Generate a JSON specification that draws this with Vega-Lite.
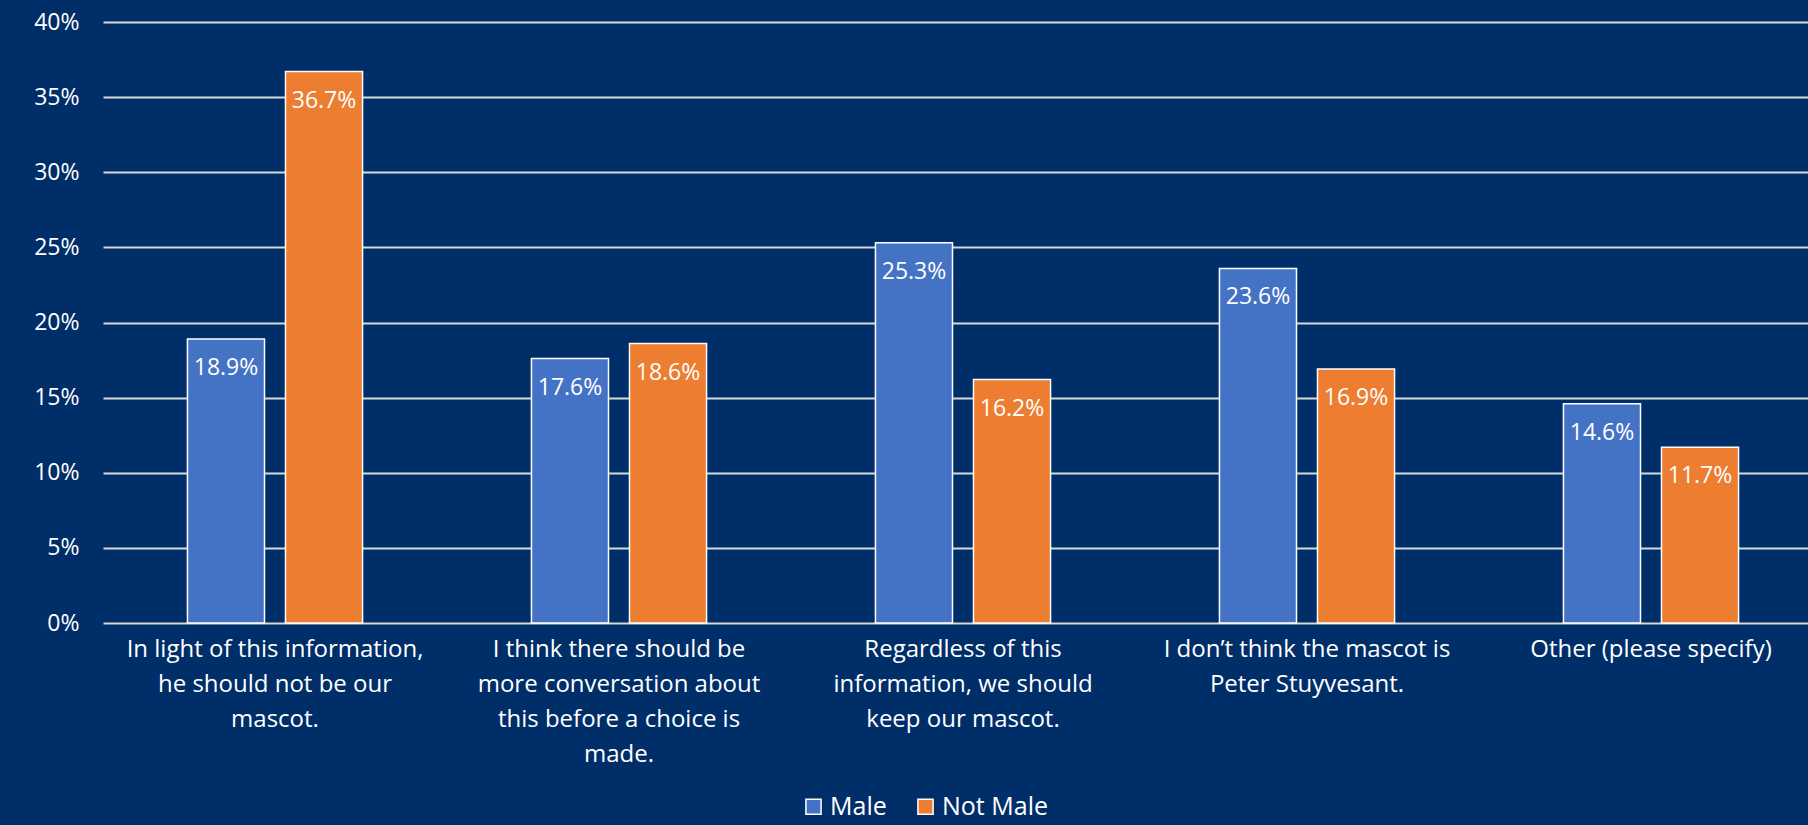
{
  "$schema": "https://vega.github.io/schema/vega-lite/v6.json",
  "width": 1720,
  "height": 601,
  "autosize": {"type": "none"},
  "padding": {"left": 103, "top": 22, "right": 0, "bottom": 202},
  "background": "#002E69",
  "config": {
    "view": {"stroke": null},
    "font": "Open Sans",
    "axis": {"labelFont": "Open Sans", "labelColor": "#FFFFFF"},
    "legend": {"labelFont": "Open Sans", "labelColor": "#FFFFFF"}
  },
  "data": {
    "values": [
      {"response": "In light of this information,|he should not be our|mascot.", "group": "Male", "share": 0.189},
      {"response": "In light of this information,|he should not be our|mascot.", "group": "Not Male", "share": 0.367},
      {"response": "I think there should be|more conversation about|this before a choice is|made.", "group": "Male", "share": 0.176},
      {"response": "I think there should be|more conversation about|this before a choice is|made.", "group": "Not Male", "share": 0.186},
      {"response": "Regardless of this|information, we should|keep our mascot.", "group": "Male", "share": 0.253},
      {"response": "Regardless of this|information, we should|keep our mascot.", "group": "Not Male", "share": 0.162},
      {"response": "I don’t think the mascot is|Peter Stuyvesant.", "group": "Male", "share": 0.236},
      {"response": "I don’t think the mascot is|Peter Stuyvesant.", "group": "Not Male", "share": 0.169},
      {"response": "Other (please specify)", "group": "Male", "share": 0.146},
      {"response": "Other (please specify)", "group": "Not Male", "share": 0.117}
    ]
  },
  "encoding": {
    "x": {
      "field": "response",
      "type": "nominal",
      "sort": null,
      "scale": {"paddingInner": 0.491, "paddingOuter": 0.2455},
      "axis": {
        "title": null,
        "labelAngle": 0,
        "labelExpr": "split(datum.label, '|')",
        "labelFontSize": 24,
        "labelLineHeight": 35,
        "labelPadding": 14,
        "labelLimit": 400,
        "ticks": false,
        "domain": false
      }
    },
    "xOffset": {
      "field": "group",
      "type": "nominal",
      "scale": {"paddingInner": 0.214, "paddingOuter": 0}
    },
    "y": {
      "field": "share",
      "type": "quantitative",
      "scale": {"domain": [0, 0.4]},
      "axis": {
        "title": null,
        "format": ".0%",
        "values": [0, 0.05, 0.1, 0.15, 0.2, 0.25, 0.3, 0.35, 0.4],
        "labelFontSize": 23,
        "labelPadding": 24,
        "ticks": false,
        "domain": false,
        "grid": true,
        "gridColor": "#D9D9D9",
        "gridWidth": 2
      }
    }
  },
  "layer": [
    {
      "mark": {"type": "bar", "stroke": "#FFFFFF", "strokeWidth": 1.5},
      "encoding": {
        "color": {
          "field": "group",
          "type": "nominal",
          "scale": {"domain": ["Male", "Not Male"], "range": ["#4472C4", "#ED7D31"]},
          "legend": {
            "title": null,
            "orient": "none",
            "direction": "horizontal",
            "legendX": 698,
            "legendY": 772,
            "symbolType": "square",
            "symbolSize": 230,
            "symbolStrokeColor": "#FFFFFF",
            "symbolStrokeWidth": 1.5,
            "labelFontSize": 25,
            "columnPadding": 26,
            "labelOffset": 4
          }
        }
      }
    },
    {
      "mark": {"type": "text", "color": "#FFFFFF", "baseline": "top", "dy": 18, "fontSize": 23},
      "encoding": {
        "text": {"field": "share", "type": "quantitative", "format": ".1%"}
      }
    }
  ]
}
